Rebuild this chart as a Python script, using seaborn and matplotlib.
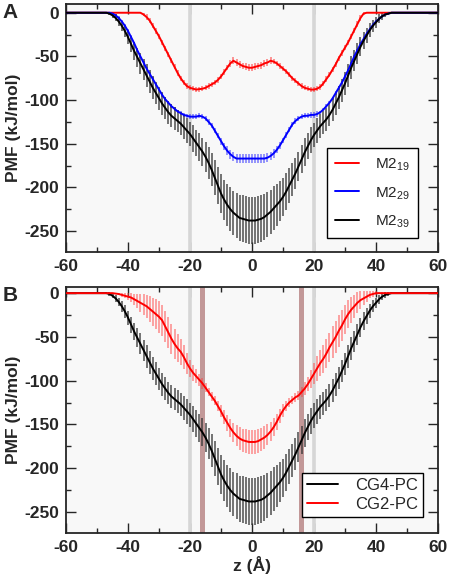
import numpy as np
import pandas as pd
import matplotlib
matplotlib.use("Agg")
import matplotlib.pyplot as plt
import seaborn as sns
from matplotlib.ticker import MultipleLocator

# z grid, 1 A spacing from -60 to 60
z = np.arange(-60, 61)

# panel A: PMF of M2 peptides (kJ/mol)
m2_19 = [0, 0, 0, 0, 0, 0, 0, 0, 0, 0,
         0, 0, 0, 0, 0, 0, 0, 0, 0, 0,
         0, 0, 0, 0, 0, -2, -5, -9, -15, -21,
         -27, -34, -41, -48, -55, -62, -69, -75, -80, -84,
         -86, -87, -88, -87.5, -87, -86, -84, -82, -80, -77,
         -73, -68, -63, -58, -55, -57, -59, -61, -62, -63,
         -63, -62, -61, -60, -58, -57, -55, -56, -58, -61,
         -64, -67, -71, -75, -78, -81, -84, -86, -87, -88,
         -88, -87, -85, -81, -76, -71, -65, -59, -52, -46,
         -40, -34, -27, -20, -13, -6, -1, 0, 0, 0,
         0, 0, 0, 0, 0, 0, 0, 0, 0, 0,
         0, 0, 0, 0, 0, 0, 0, 0, 0, 0,
         0]
m2_19_err = [0.5] * 20 + [0.5] * 5 + [2, 3, 3, 3, 3] + [3] * 20 + \
            [3, 3, 3, 4, 4, 4, 4, 4, 4, 4] + [4, 4, 4, 4, 4, 4, 4, 3, 3, 3] + \
            [3] * 20 + [3, 3, 3, 3, 3, 3, 2, 0.5, 0.5, 0.5] + [0.5] * 21

m2_29 = [0, 0, 0, 0, 0, 0, 0, 0, 0, 0,
         0, 0, 0, 0, 0, -1, -3, -6, -10, -15,
         -21, -28, -35, -43, -50, -57, -64, -70, -76, -82,
         -88, -94, -99, -103, -107, -110, -113, -115, -117, -118,
         -119, -119, -119, -118, -119, -121, -125, -129, -135, -141,
         -147, -153, -158, -162, -165, -167, -167, -167, -167, -167,
         -167, -167, -167, -167, -167, -166, -164, -161, -157, -152,
         -146, -140, -134, -128, -124, -121, -119, -118, -118, -117,
         -117, -116, -114, -111, -107, -103, -98, -92, -86, -80,
         -73, -66, -58, -50, -43, -36, -30, -24, -19, -14,
         -10, -7, -4, -2, -1, 0, 0, 0, 0, 0,
         0, 0, 0, 0, 0, 0, 0, 0, 0, 0,
         0]
m2_29_err = [0.5] * 10 + [0.5] * 5 + [1, 1.5, 2, 2, 2] + [2] * 20 + [3] * 10 + \
            [4, 4, 5, 5, 5, 5, 5, 5, 5, 5] + [5, 5, 5, 5, 5, 5, 5, 5, 4, 4] + \
            [3] * 10 + [3, 3, 2, 2, 2, 2, 2, 2, 2, 2] + [2] * 10 + \
            [2, 2, 1.5, 1, 1, 0.5, 0.5, 0.5, 0.5, 0.5] + [0.5] * 11

m2_39 = [0, 0, 0, 0, 0, 0, 0, 0, 0, 0,
         0, 0, 0, 0, -1, -3, -6, -10, -15, -21,
         -28, -36, -44, -51, -58, -65, -72, -79, -86, -92,
         -98, -104, -109, -114, -118, -121, -124, -127, -131, -135,
         -139, -144, -149, -154, -159, -165, -172, -180, -189, -198,
         -207, -214, -220, -225, -229, -232, -235, -236, -237, -238,
         -238, -238, -237, -236, -234, -231, -228, -224, -220, -216,
         -211, -205, -198, -191, -184, -176, -168, -160, -153, -146,
         -140, -135, -130, -126, -122, -117, -111, -104, -97, -89,
         -81, -72, -63, -55, -47, -39, -32, -26, -20, -15,
         -11, -7, -4, -2, -1, 0, 0, 0, 0, 0,
         0, 0, 0, 0, 0, 0, 0, 0, 0, 0,
         0]
m2_39_err = [0.5] * 10 + [0.5, 0.5, 0.5, 1, 2, 3, 4, 5, 6, 7] + \
            [8, 9, 10, 11, 12, 12, 13, 13, 13, 13] + [13] * 8 + [14, 14] + \
            [14, 15, 15, 16, 16, 17, 18, 19, 20, 21] + [22, 23, 24, 25, 25, 26, 26, 27, 27, 27] + \
            [27, 27, 27, 27, 26, 26, 25, 25, 24, 23] + [22, 21, 20, 19, 18, 17, 16, 16, 15, 15] + \
            [14, 14, 14, 13, 13, 13, 13, 13, 13, 13] + [13, 13, 13, 12, 12, 11, 10, 9, 8, 7] + \
            [6, 5, 4, 3, 2, 1, 0.5, 0.5, 0.5, 0.5] + [0.5] * 11

# panel B: CG4-PC is the same profile as M2_39
cg4_pc = m2_39
cg4_pc_err = m2_39_err
cg2_pc = [0, 0, 0, 0, 0, 0, 0, 0, 0, 0,
          0, 0, 0, 0, 0, 0, -0.5, -1, -2, -3,
          -4, -5, -7, -9, -11, -13, -15, -18, -21, -24,
          -27, -31, -38, -45, -52, -58, -63, -67, -73, -80,
          -86, -91, -95, -99, -103, -108, -113, -118, -123, -129,
          -135, -142, -148, -154, -159, -163, -166, -168, -169, -170,
          -170, -170, -169, -167, -165, -162, -158, -153, -147, -140,
          -134, -129, -125, -122, -119, -117, -113, -109, -104, -98,
          -92, -86, -80, -75, -69, -62, -56, -50, -43, -37,
          -30, -24, -19, -15, -11, -8, -6, -4, -2, -1,
          0, 0, 0, 0, 0, 0, 0, 0, 0, 0,
          0, 0, 0, 0, 0, 0, 0, 0, 0, 0,
          0]
cg2_pc_err = [0.5] * 10 + [0.5] * 6 + [1, 1.5, 2, 3] + \
             [4, 5, 6, 8, 10, 12, 13, 15, 16, 17] + [18, 18, 18, 18, 17, 17, 16, 15, 14, 12] + \
             [10, 9, 8, 7, 6, 5, 5, 5, 5, 6] + [7, 8, 9, 10, 11, 12, 13, 13, 14, 14] + \
             [14, 14, 14, 13, 13, 12, 11, 10, 9, 8] + [7, 6, 5, 5, 5, 5, 6, 7, 8, 10] + \
             [12, 14, 15, 16, 17, 17, 18, 18, 18, 18] + [17, 16, 15, 13, 12, 10, 8, 6, 4, 3] + \
             [2, 1.5, 1, 0.5, 0.5, 0.5, 0.5, 0.5, 0.5, 0.5] + [0.5] * 11

labels_a = ["M2$_{19}$", "M2$_{29}$", "M2$_{39}$"]
labels_b = ["CG4-PC", "CG2-PC"]

sns.set_style("ticks")
plt.rcParams["font.family"] = ["Liberation Sans", "DejaVu Sans"]
plt.rcParams["mathtext.fontset"] = "custom"
plt.rcParams["mathtext.rm"] = "Liberation Sans"
plt.rcParams["axes.unicode_minus"] = False

fig = plt.figure(figsize=(4.5, 5.81), dpi=100)
ax_a = fig.add_axes([0.1467, 0.5663, 0.8266, 0.4268])
ax_b = fig.add_axes([0.1467, 0.0826, 0.8266, 0.4234])


def draw(ax, series, colors, ecolors, labels):
    for (vals, err), c, ec, lab in zip(series, colors, ecolors, labels):
        df = pd.DataFrame({"z": z, "pmf": vals})
        ax.errorbar(z, vals, yerr=err, fmt="none", ecolor=ec, elinewidth=1.2,
                    capsize=0, zorder=2)
        sns.lineplot(data=df, x="z", y="pmf", ax=ax, color=c, linewidth=1.4,
                     label=lab, zorder=3)


def style(ax, ylim):
    ax.set_facecolor("#f8f8f8")
    ax.set_xlim(-60, 60)
    ax.set_ylim(*ylim)
    ax.xaxis.set_major_locator(MultipleLocator(20))
    ax.xaxis.set_minor_locator(MultipleLocator(10))
    ax.yaxis.set_major_locator(MultipleLocator(50))
    ax.yaxis.set_minor_locator(MultipleLocator(25))
    ax.tick_params(which="both", direction="in", top=True, right=True,
                   labelsize=12.5, width=1.0, pad=5)
    ax.tick_params(which="major", length=7)
    ax.tick_params(which="minor", length=3.5)
    for lab in ax.get_xticklabels() + ax.get_yticklabels():
        lab.set_fontweight("bold")
    for sp in ax.spines.values():
        sp.set_linewidth(1.3)
    ax.set_ylabel("PMF (kJ/mol)", fontsize=12.5, fontweight="bold", labelpad=2)


# panel A
for x0 in (-20, 20):
    ax_a.axvline(x0, color="#d6d6d6", linewidth=2.6, zorder=1)
draw(ax_a,
     [(m2_19, m2_19_err), (m2_29, m2_29_err), (m2_39, m2_39_err)],
     ["#ff0000", "#0000ff", "#000000"],
     [(1, 0.2, 0.2, 0.6), (0.2, 0.2, 1, 0.6), (0.2, 0.2, 0.2, 0.8)],
     labels_a)
style(ax_a, (-274, 10))
ax_a.set_xlabel("")
leg = ax_a.legend(loc="lower right", bbox_to_anchor=(0.946, 0.056), borderaxespad=0,
                  fontsize=11, handlelength=1.6, labelspacing=0.75, fancybox=False,
                  edgecolor="black", framealpha=1, borderpad=0.55, handletextpad=1.0)
leg.get_frame().set_linewidth(1.0)

# panel B
for x0 in (-20, 20):
    ax_b.axvline(x0, color="#d6d6d6", linewidth=2.6, zorder=1)
for x0 in (-16, 16):
    ax_b.axvspan(x0 - 0.9, x0 + 0.9, color="#b07878", alpha=0.75, lw=0, zorder=1.5)
draw(ax_b,
     [(cg4_pc, cg4_pc_err), (cg2_pc, cg2_pc_err)],
     ["#000000", "#ff0000"],
     [(0.2, 0.2, 0.2, 0.8), (1, 0.25, 0.25, 0.55)],
     labels_b)
style(ax_b, (-274, 7))
ax_b.set_xlabel("z (Å)", fontsize=12.5, fontweight="bold", labelpad=1)
leg = ax_b.legend(loc="lower right", bbox_to_anchor=(0.96, 0.065), borderaxespad=0,
                  fontsize=12, handlelength=1.9, labelspacing=0.25, fancybox=False,
                  edgecolor="black", framealpha=1, borderpad=0.3, handletextpad=1.0)
leg.get_frame().set_linewidth(1.0)

fig.text(0.006, 0.995, "A", fontsize=15, fontweight="bold", va="top", ha="left")
fig.text(0.006, 0.507, "B", fontsize=15, fontweight="bold", va="top", ha="left")

fig.savefig("out.png", dpi=100)
